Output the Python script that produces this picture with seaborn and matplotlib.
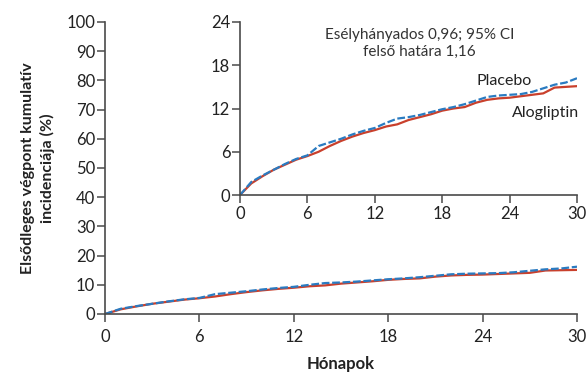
import numpy as np
import pandas as pd
import matplotlib
matplotlib.use("Agg")
import matplotlib.pyplot as plt
import seaborn as sns

months = list(range(31))
placebo = [0, 1.8, 2.7, 3.5, 4.3, 5.0, 5.5, 6.8, 7.3, 7.8, 8.4, 8.9, 9.3, 10.0, 10.6,
           10.8, 11.1, 11.5, 11.9, 12.2, 12.6, 13.1, 13.6, 13.8, 13.9, 14.0, 14.3,
           14.8, 15.3, 15.6, 16.2]
alogliptin = [0, 1.6, 2.6, 3.5, 4.2, 4.9, 5.4, 6.0, 6.8, 7.5, 8.1, 8.6, 9.0, 9.5, 9.8,
              10.4, 10.8, 11.2, 11.7, 12.0, 12.2, 12.8, 13.2, 13.4, 13.5, 13.7, 13.9,
              14.1, 14.9, 15.0, 15.1]
main_yticks = list(range(0, 101, 10))
inset_yticks = [0, 6, 12, 18, 24]
xticks = [0, 6, 12, 18, 24, 30]

df = pd.DataFrame({"month": months, "Placebo": placebo, "Alogliptin": alogliptin})

sns.set_style("ticks")
plt.rcParams["font.family"] = ["Lato", "DejaVu Sans"]
AX = "#4a4a4a"
RED = "#c9402c"
BLUE = "#2a7bc1"

fig = plt.figure(figsize=(5.87, 3.72), dpi=100)
ax = fig.add_axes([105 / 587, 58 / 372, 472 / 587, 292 / 372])
ins = fig.add_axes([240 / 587, 177 / 372, 337 / 587, 173 / 372])


def draw(a, lw, xpad):
    sns.lineplot(data=df, x="month", y="Alogliptin", ax=a, color=RED, lw=lw)
    sns.lineplot(data=df, x="month", y="Placebo", ax=a, color=BLUE, lw=lw,
                 dashes=False, linestyle=(0, (3.5, 1.2)))
    a.set_xlim(0, 30)
    a.set_xticks(xticks)
    a.set_xlabel("")
    a.set_ylabel("")
    sns.despine(ax=a)
    for s in ["left", "bottom"]:
        a.spines[s].set_color(AX)
        a.spines[s].set_linewidth(1.2)
    a.tick_params(colors=AX, labelcolor="#222222", labelsize=12, length=5.5,
                  width=1.1)
    a.tick_params(axis="y", pad=1.5)
    a.tick_params(axis="x", pad=xpad)
    a.patch.set_alpha(0)


draw(ax, 1.6, 5)
ax.set_ylim(0, 100)
ax.set_yticks(main_yticks)
ax.set_xlabel("Hónapok", fontsize=12, fontweight="bold", color="#222222", labelpad=8)
ax.set_ylabel("Elsődleges végpont kumulatív\nincidenciája (%)", fontsize=11.5,
              fontweight="bold", color="#222222", labelpad=8, linespacing=1.45)

draw(ins, 1.6, 2.5)
ins.set_ylim(0, 24)
ins.set_yticks(inset_yticks)

ins.text(16.0, 21.0, "Esélyhányados 0,96; 95% CI\nfelső határa 1,16", ha="center",
         va="center", fontsize=11, color="#333333", linespacing=1.25)
ins.text(23.5, 15.8, "Placebo", ha="center", va="center", fontsize=11.5, color="#222222")
ins.text(27.2, 11.4, "Alogliptin", ha="center", va="center", fontsize=11.5, color="#222222")

fig.savefig("out.png", dpi=100)
